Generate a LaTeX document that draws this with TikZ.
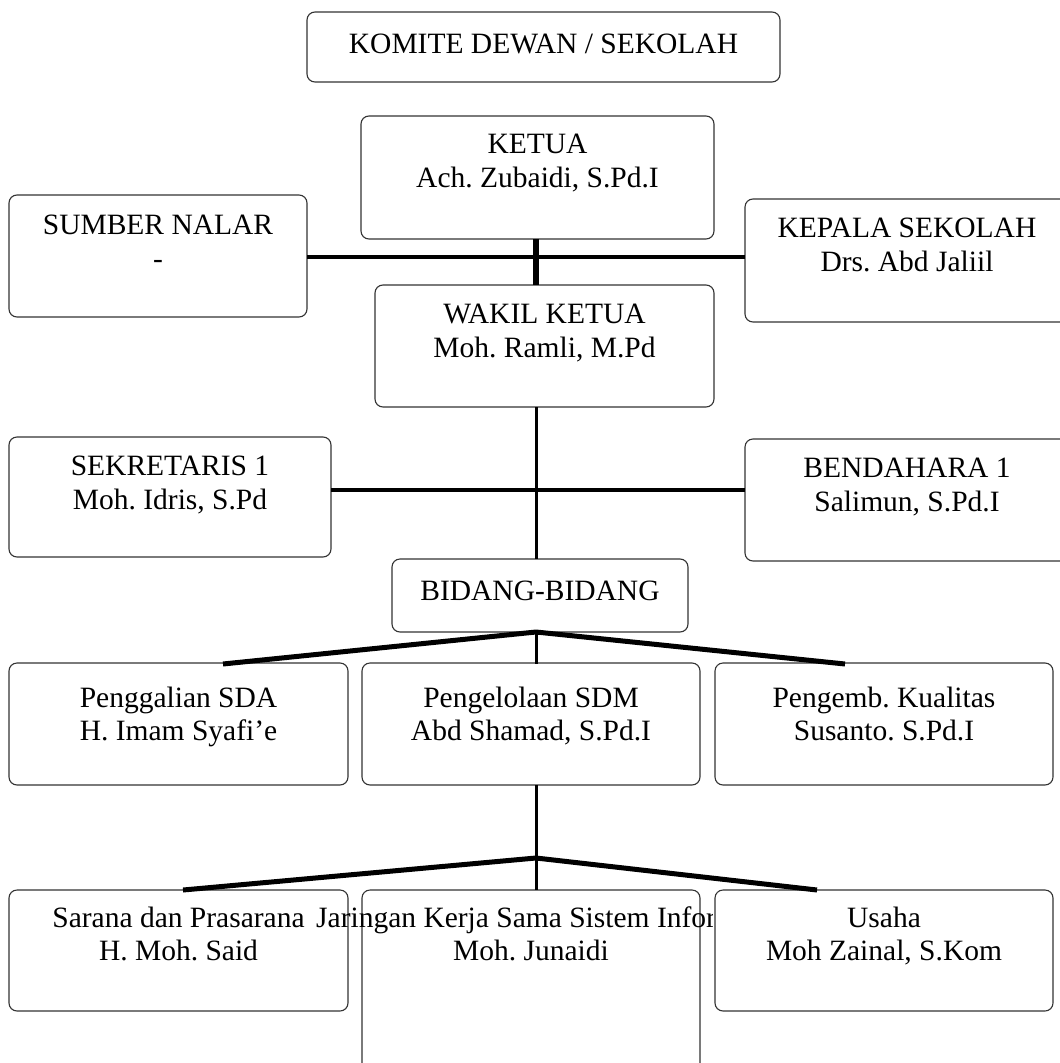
\documentclass[tikz,border=0pt]{standalone}
\usepackage{fontspec}
\setmainfont{Liberation Serif}
\frenchspacing
\begin{document}
\begin{tikzpicture}[x=1pt,y=-1pt,
  orgbox/.style={draw=black!80,line width=1.1pt,rounded corners=8pt},
  lbl/.style={anchor=base,inner sep=0pt,font=\fontsize{29.5}{34}\selectfont},
  thickline/.style={line width=4pt},
  stemline/.style={line width=3pt},
  diagline/.style={line width=5pt}]
\useasboundingbox (0,0) rectangle (1060,1063);
\clip (0,0) rectangle (1060,1063);
% boxes
\draw[orgbox] (307,12) rectangle (780,82);
\draw[orgbox] (361,116) rectangle (714,239);
\coordinate (ketuaS) at (536,239);
\draw[orgbox] (375,285) rectangle (714,407);
\coordinate (wakilN) at (536,285);
\coordinate (wakilS) at (536,407);
\draw[orgbox] (9,195) rectangle (307,317);
\coordinate (sumberE) at (307,257);
\draw[orgbox] (745,199) rectangle (1075,322);
\coordinate (kepalaW) at (745,257);
\draw[orgbox] (9,437) rectangle (331,557);
\coordinate (sekreE) at (331,490);
\draw[orgbox] (745,439) rectangle (1075,561);
\coordinate (bendaW) at (745,490);
\draw[orgbox] (392,559) rectangle (688,632);
\coordinate (bidangN) at (536,559);
\coordinate (bidangS) at (536,632);
\draw[orgbox] (9,663) rectangle (348,785);
\draw[orgbox] (362,663) rectangle (700,785);
\draw[orgbox] (715,663) rectangle (1053,785);
\coordinate (r3a) at (223,664);
\coordinate (r3b) at (536,664);
\coordinate (r3c) at (845,664);
\coordinate (r3S) at (536,785);
\coordinate (j2) at (536,858);
\draw[orgbox] (9,890) rectangle (348,1011);
\draw[orgbox] (362,890) rectangle (700,1090);
\draw[orgbox] (715,890) rectangle (1053,1011);
\coordinate (r4a) at (183,890);
\coordinate (r4b) at (536,890);
\coordinate (r4c) at (817,890);
% connectors
\draw[line width=6pt] (ketuaS) -- (wakilN);
\draw[thickline] (sumberE) -- (kepalaW);
\draw[stemline] (wakilS) -- (bidangN);
\draw[thickline] (sekreE) -- (bendaW);
\draw[diagline] (bidangS) -- (r3a);
\draw[diagline] (bidangS) -- (r3c);
\draw[stemline] (bidangS) -- (r3b);
\draw[stemline] (r3S) -- (j2);
\draw[diagline] (j2) -- (r4a);
\draw[diagline] (j2) -- (r4c);
\draw[stemline] (j2) -- (r4b);
% texts
\node[lbl] (t1) at (543.5,53) {KOMITE DEWAN / SEKOLAH};
\node[lbl] (t2a) at (537.5,153) {KETUA};
\node[lbl] (t2b) at (537.5,187) {Ach. Zubaidi, S.Pd.I};
\node[lbl] (t3a) at (158,234) {SUMBER NALAR};
\node[lbl] (t3b) at (158,268) {-};
\node[lbl] (t4a) at (544.5,323) {WAKIL KETUA};
\node[lbl] (t4b) at (544.5,357) {Moh. Ramli, M.Pd};
\node[lbl] (t5a) at (907,237) {KEPALA SEKOLAH};
\node[lbl] (t5b) at (907,271) {Drs. Abd Jaliil};
\node[lbl] (t6a) at (170,475) {SEKRETARIS 1};
\node[lbl] (t6b) at (170,509) {Moh. Idris, S.Pd};
\node[lbl] (t7a) at (907,477) {BENDAHARA 1};
\node[lbl] (t7b) at (907,511) {Salimun, S.Pd.I};
\node[lbl] (t8) at (540,600) {BIDANG-BIDANG};
\node[lbl] (t9a) at (178.5,707) {Penggalian SDA};
\node[lbl] (t9b) at (178.5,740) {H. Imam Syafi’e};
\node[lbl] (t10a) at (531,707) {Pengelolaan SDM};
\node[lbl] (t10b) at (531,740) {Abd Shamad, S.Pd.I};
\node[lbl] (t11a) at (884,707) {Pengemb. Kualitas};
\node[lbl] (t11b) at (884,740) {Susanto. S.Pd.I};
\node[lbl] (t12a) at (178.5,927) {Sarana dan Prasarana};
\node[lbl] (t12b) at (178.5,960) {H. Moh. Said};
\begin{scope}
\clip (300,880) rectangle (712,1000);
\node[lbl,anchor=base west] (t13a) at (316,927) {Jaringan Kerja Sama Sistem Informasi};
\end{scope}
\node[lbl] (t13b) at (531,960) {Moh. Junaidi};
\node[lbl] (t14a) at (884,927) {Usaha};
\node[lbl] (t14b) at (884,960) {Moh Zainal, S.Kom};
\end{tikzpicture}
\end{document}
